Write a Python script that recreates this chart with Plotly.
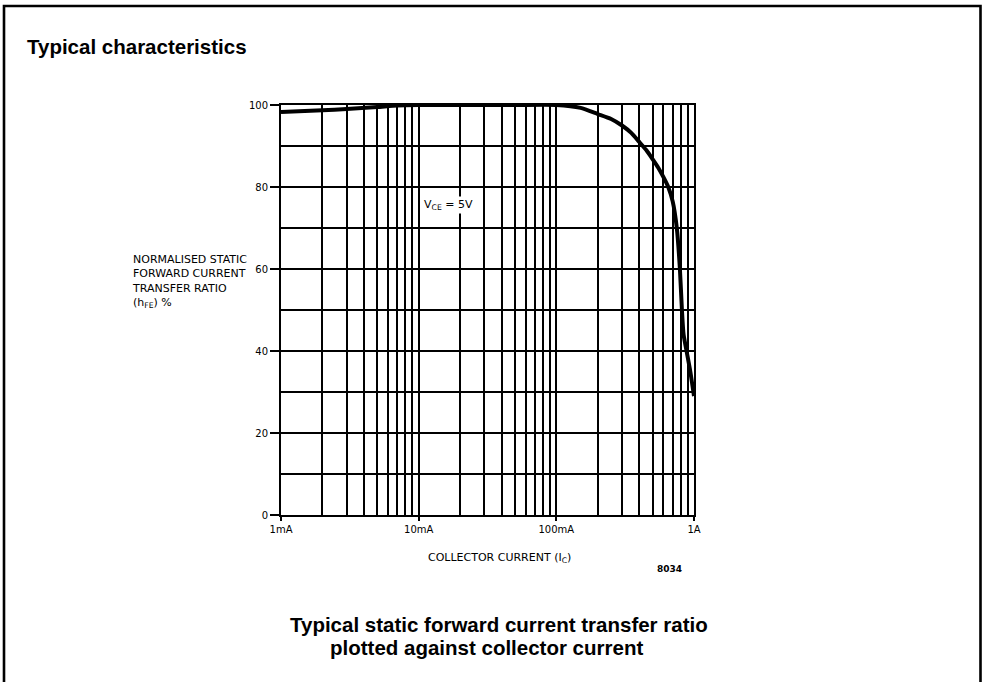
import plotly.graph_objects as go

# Collector current (A) and normalised static forward current transfer ratio (%)
collector_current_a = [0.001, 0.002, 0.003, 0.005, 0.007, 0.010, 0.020, 0.050, 0.100,
                       0.150, 0.200, 0.250, 0.300, 0.350, 0.400, 0.450, 0.500, 0.550,
                       0.600, 0.650, 0.700, 0.750, 0.790, 0.817, 0.840, 0.883, 0.940,
                       1.000]
hfe_percent = [98.3, 98.7, 99.0, 99.5, 99.9, 100.0, 100.0, 100.0, 100.0,
               99.3, 97.8, 96.6, 95.0, 93.2, 91.0, 89.0, 86.8, 84.7,
               82.4, 80.0, 76.5, 70.0, 60.0, 50.0, 44.0, 40.0, 35.0,
               29.0]

x_major_vals = [0.001, 0.01, 0.1, 1.0]
x_major_text = ["1mA", "10mA", "100mA", "1A"]
x_minor_vals = [m * d for d in (0.001, 0.01, 0.1) for m in range(2, 10)]
y_major_vals = [0, 20, 40, 60, 80, 100]
y_minor_vals = [10, 30, 50, 70, 90]

SMALL = "DejaVu Sans"
BOLD = "Liberation Sans"

fig = go.Figure()
fig.add_trace(go.Scatter(
    x=collector_current_a, y=hfe_percent, mode="lines",
    line=dict(color="black", width=4, shape="spline", smoothing=0.6),
    hoverinfo="skip", showlegend=False,
))

fig.update_xaxes(
    type="log", range=[-3, 0],
    tickvals=x_major_vals, ticktext=x_major_text,
    ticks="outside", ticklen=4, tickwidth=1.5, tickcolor="black",
    tickfont=dict(family=SMALL, size=10, color="black"),
    showgrid=True, gridcolor="black", gridwidth=1.6,
    minor=dict(tickvals=x_minor_vals, showgrid=True, gridcolor="black",
               gridwidth=1.6, ticks=""),
    showline=True, mirror=True, linecolor="black", linewidth=2,
    zeroline=False, fixedrange=True,
)
fig.update_yaxes(
    range=[0, 100],
    tickvals=y_major_vals, ticktext=[str(v) for v in y_major_vals],
    ticks="outside", ticklen=9, tickwidth=1.5, tickcolor="black",
    tickfont=dict(family=SMALL, size=10, color="black"),
    showgrid=True, gridcolor="black", gridwidth=1.6,
    minor=dict(tickvals=y_minor_vals, showgrid=True, gridcolor="black",
               gridwidth=1.6, ticks=""),
    showline=True, mirror=True, linecolor="black", linewidth=2,
    zeroline=False, fixedrange=True,
)

annotations = [
    dict(text="<b>Typical characteristics</b>", x=-0.6199, y=1.1439,
         xanchor="left", yanchor="middle",
         font=dict(family=BOLD, size=20.5, color="black")),
    dict(text="NORMALISED STATIC<br>FORWARD CURRENT<br>TRANSFER RATIO<br>(h<sub>FE</sub>) %",
         x=-0.3656, y=0.5707, xanchor="left", yanchor="middle", align="left",
         font=dict(family=SMALL, size=11, color="black")),
    dict(text="COLLECTOR CURRENT (I<sub>C</sub>)", x=0.530, y=-0.1049,
         xanchor="center", yanchor="middle",
         font=dict(family=SMALL, size=11, color="black")),
    dict(text="<b>8034</b>", x=0.941, y=-0.1317, xanchor="center", yanchor="middle",
         font=dict(family=SMALL, size=9, color="black")),
    dict(text="<b>Typical static forward current transfer ratio</b>",
         x=0.529, y=-0.268, xanchor="center", yanchor="middle",
         font=dict(family=BOLD, size=20.5, color="black")),
    dict(text="<b>plotted against collector current</b>",
         x=0.4976, y=-0.322, xanchor="center", yanchor="middle",
         font=dict(family=BOLD, size=20.5, color="black")),
]
for a in annotations:
    a.update(xref="paper", yref="paper", showarrow=False)

# supply-voltage label sitting on a white patch over the grid (x in log10 units)
annotations.append(dict(
    text="V<sub>CE</sub> = 5V", x=-1.78, y=75.6, xref="x", yref="y",
    showarrow=False, xanchor="center", yanchor="middle", bgcolor="white",
    borderpad=1, font=dict(family=SMALL, size=11, color="black"),
))

fig.update_layout(
    width=990, height=682,
    margin=dict(l=281, r=296, t=105, b=167),
    paper_bgcolor="white", plot_bgcolor="white",
    annotations=annotations,
    shapes=[dict(type="rect", xref="paper", yref="paper",
                 x0=-0.6707, x1=1.6937, y0=-0.451, y1=1.2415,
                 line=dict(color="black", width=2.6), layer="above")],
)

fig.write_html("out.html", config={"displayModeBar": False})
